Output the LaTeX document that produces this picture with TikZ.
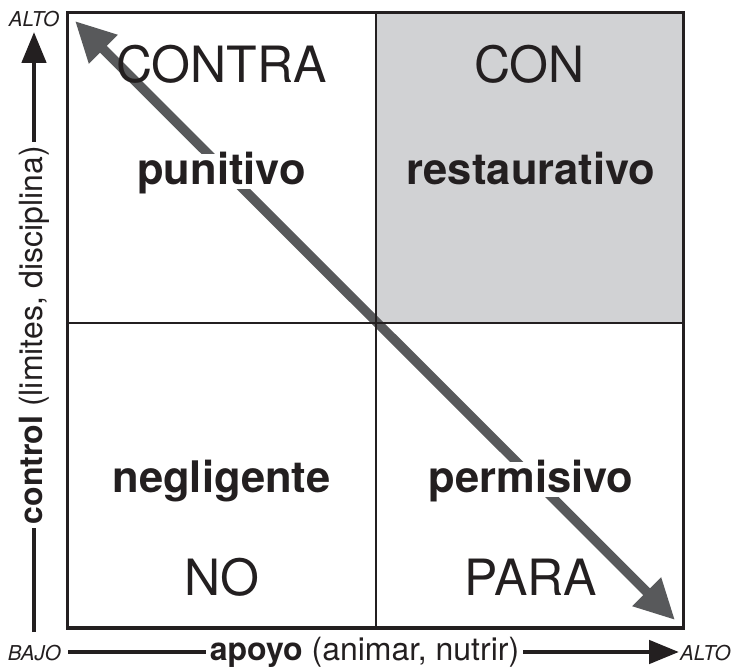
\documentclass[tikz,border=0pt]{standalone}
\usepackage{fontspec}
\setmainfont{TeX Gyre Heros}
\usetikzlibrary{arrows.meta}
\definecolor{quadgray}{RGB}{209,210,212}
\definecolor{arrowgray}{RGB}{88,89,91}
\definecolor{inkblack}{RGB}{35,31,32}
\begin{document}
\begin{tikzpicture}[x=1pt,y=-1pt,
  bigword/.style={font=\fontsize{50}{50}\selectfont, anchor=base, inner sep=0pt, text=inkblack},
  midword/.style={font=\fontsize{43.5}{44}\selectfont\bfseries, anchor=base, inner sep=0pt, text=inkblack, text height=31pt, text depth=4pt},
  axislabel/.style={font=\fontsize{32}{32}\selectfont, inner ysep=0pt, inner xsep=4pt, text=inkblack},
  endlabel/.style={font=\fontsize{20.5}{20.5}\selectfont\itshape, inner sep=0pt, text=inkblack},
  axisline/.style={line width=4.8pt, draw=inkblack}]
\useasboundingbox (0,0) rectangle (732,668);
% gray quadrant
\fill[quadgray] (376,13) rectangle (683,323);
% diagonal double arrow
\coordinate (dtl) at (75,21);
\coordinate (dbr) at (675,620);
\draw[arrowgray, line width=9.5pt, {Triangle[length=40pt,width=38pt]}-{Triangle[length=40pt,width=38pt]}] (dtl) -- (dbr);
% grid
\draw[line width=2pt, inkblack] (376,13) -- (376,628) (67,323) -- (683,323);
\draw[line width=3pt, inkblack] (67,13) rectangle (683,628);
% quadrant texts
\node[bigword] (contra) at (221.5,83) {CONTRA};
\node[bigword] (con) at (529.5,83) {CON};
\node[midword, fill=white] (punitivo) at (221.5,185) {punitivo};
\node[midword] (restaurativo) at (531,185) {restaurativo};
\node[midword] (negligente) at (221.5,493) {negligente};
\node[midword, fill=white] (permisivo) at (531,493) {permisivo};
\node[bigword] (no) at (221.5,595) {NO};
\node[bigword] (para) at (531,595) {PARA};
% vertical axis
\node[axislabel, rotate=90, anchor=base] (ylab) at (42.4,335) {\textbf{control} (limites, disciplina)};
\coordinate (ybot) at (34,632);
\coordinate (ytop) at (34,32);
\draw[axisline] (ybot) -- (ybot |- ylab.west);
\draw[axisline, -{Triangle[length=31pt,width=24pt]}] (ytop |- ylab.east) -- (ytop);
\node[endlabel, anchor=base] (altoy) at (34,27) {ALTO};
% horizontal axis
\node[axislabel, anchor=base] (xlab) at (364.5,660) {\textbf{apoyo} (animar, nutrir)};
\coordinate (xleft) at (68,652);
\coordinate (xright) at (679,652);
\draw[axisline] (xleft) -- (xleft -| xlab.west);
\draw[axisline, -{Triangle[length=30pt,width=23pt]}] (xright -| xlab.east) -- (xright);
\node[endlabel, anchor=base east] (bajo) at (61,660) {BAJO};
\node[endlabel, anchor=base west] (altox) at (680,660) {ALTO};
\end{tikzpicture}
\end{document}
